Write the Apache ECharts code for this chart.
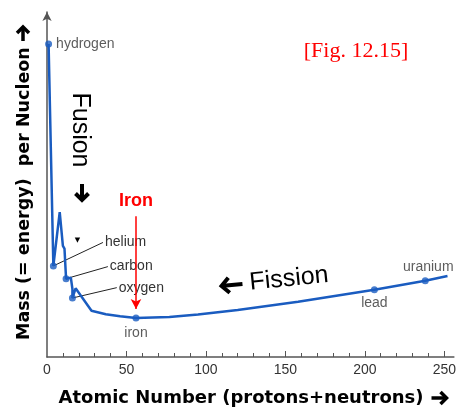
<!DOCTYPE html>
<html>
<head>
<meta charset="utf-8">
<script src="https://cdn.jsdelivr.net/npm/echarts@6/dist/echarts.min.js"></script>
<style>
  html, body { margin: 0; padding: 0; background: #fff; }
  #chart { width: 459px; height: 412px; }
</style>
</head>
<body>
<div id="chart"></div>
<script>
// binding curve (mass per nucleon in arbitrary units)
const curveA = [1, 4, 8, 10, 11, 12, 15, 16, 16, 18, 28, 37, 46, 56, 77, 95, 120, 158, 206, 238, 252]
const curveMass = [90.7, 26.4, 42.0, 32.2, 31.4, 22.7, 23.0, 19.7, 17.1, 19.9, 13.4, 12.4, 11.8, 11.3, 11.6, 12.3, 13.6, 16.0, 19.5, 22.1, 23.5]

// labelled elements
const elementNames = ['hydrogen', 'helium', 'carbon', 'oxygen', 'iron', 'lead', 'uranium']
const elementA = [1, 4, 12, 16, 56, 206, 238]
const elementMass = [90.7, 26.4, 22.7, 17.1, 11.3, 19.5, 22.1]

// leader lines for the crowded light elements (end of line, in data units)
const leaderNames = ['helium', 'carbon', 'oxygen']
const leaderA = [35.2, 38.3, 43.9]
const leaderMass = [33.2, 26.2, 20.1]

// red "Iron" arrow
const ironArrowA = 56
const ironArrowFrom = 40.8
const ironArrowTo = 13.9

const xTicks = [0, 50, 100, 150, 200, 250]
const xMinorTicks = [10, 20, 30, 40, 60, 70, 80, 90, 110, 120, 130, 140, 160, 170, 180, 190, 210, 220, 230, 240]

const blue = '#1a5cc0'
const sans = 'Liberation Sans'

const labelPlace = {
  hydrogen: { position: 'right', distance: 4 },
  iron: { position: 'bottom', distance: 5 },
  lead: { position: 'bottom', distance: 3 },
  uranium: { position: 'top', distance: 3, offset: [3, 0] }
}

// heavy black arrow (points right before rotation)
function arrow(x, y, len, head, width, rotation) {
  return {
    type: 'group', x: x, y: y, rotation: rotation,
    children: [
      { type: 'line', shape: { x1: -len / 2, y1: 0, x2: len / 2 - 2, y2: 0 }, style: { stroke: '#000', lineWidth: width } },
      { type: 'polyline', shape: { points: [[len / 2 - head, -head], [len / 2, 0], [len / 2 - head, head]] },
        style: { stroke: '#000', lineWidth: width, fill: null, lineJoin: 'miter' } }
    ]
  }
}

const chart = echarts.init(document.getElementById('chart'))

const leaderSeries = leaderNames.map((name, i) => {
  const k = elementNames.indexOf(name)
  return {
    type: 'line',
    silent: true,
    symbol: 'none',
    lineStyle: { color: '#222', width: 1 },
    data: [[elementA[k], elementMass[k]], [leaderA[i], leaderMass[i]]],
    endLabel: {
      show: true,
      formatter: name,
      distance: 2,
      color: '#333',
      fontSize: 14,
      fontFamily: sans
    },
    z: 1
  }
})

chart.setOption({
  animation: false,
  grid: { left: 47, right: 2, top: 12, bottom: 54 },
  xAxis: [{
    type: 'value',
    min: 0,
    max: 256,
    position: 'bottom',
    name: 'Atomic Number (protons+neutrons)   ',
    nameLocation: 'middle',
    nameGap: 32,
    nameTextStyle: { fontFamily: 'DejaVu Sans', fontWeight: 'bold', fontSize: 18, color: '#000' },
    axisLine: { lineStyle: { color: '#555', width: 1.5 } },
    axisTick: { show: true, inside: true, length: 4, customValues: xMinorTicks, lineStyle: { color: '#555' } },
    axisLabel: { customValues: xTicks, color: '#333', fontSize: 14, fontFamily: sans, margin: 6 },
    splitLine: { show: false }
  }, {
    type: 'value',
    min: 0,
    max: 256,
    position: 'bottom',
    axisLine: { show: false },
    axisTick: { show: true, inside: true, length: 6, customValues: xTicks.slice(1), lineStyle: { color: '#555' } },
    axisLabel: { show: false },
    splitLine: { show: false }
  }],
  yAxis: {
    type: 'value',
    min: 0,
    max: 100,
    name: 'Mass (= energy)  per Nucleon   ',
    nameLocation: 'middle',
    nameRotate: 90,
    nameGap: 14,
    nameTextStyle: { fontFamily: 'DejaVu Sans', fontWeight: 'bold', fontSize: 17.5, color: '#000' },
    axisLine: {
      lineStyle: { color: '#555', width: 1.5 },
      symbol: ['none', 'arrow'],
      symbolSize: [7, 9]
    },
    axisTick: { show: false },
    axisLabel: { show: false },
    splitLine: { show: false }
  },
  series: [{
    type: 'line',
    silent: true,
    showSymbol: false,
    lineStyle: { color: blue, width: 2.5 },
    data: curveA.map((a, i) => [a, curveMass[i]]),
    markLine: {
      silent: true,
      symbol: ['none', 'arrow'],
      symbolSize: [8, 10],
      lineStyle: { color: '#ff0000', width: 1.5, type: 'solid' },
      label: {
        show: true,
        position: 'start',
        formatter: 'Iron',
        color: '#ff0000',
        fontWeight: 'bold',
        fontSize: 18,
        fontFamily: sans,
        distance: 6
      },
      data: [[{ coord: [ironArrowA, ironArrowFrom] }, { coord: [ironArrowA, ironArrowTo] }]]
    },
    z: 2
  }, {
    type: 'scatter',
    silent: true,
    symbolSize: 7,
    itemStyle: { color: blue },
    label: { color: '#333', fontSize: 14, fontFamily: sans },
    data: elementNames.map((name, i) => {
      const place = labelPlace[name]
      return {
        name: name,
        value: [elementA[i], elementMass[i]],
        label: place ? Object.assign({ show: true, formatter: name }, place) : { show: false }
      }
    }),
    z: 3
  }].concat(leaderSeries),
  graphic: [
    {
      type: 'text', x: 80, y: 130, rotation: -Math.PI / 2,
      style: { text: 'Fusion', fontSize: 25, fontFamily: sans, fill: '#000', align: 'center', verticalAlign: 'middle' }
    },
    arrow(82, 192, 16, 6.5, 4, -Math.PI / 2),
    {
      type: 'text', x: 289, y: 279, rotation: 0.1,
      style: { text: 'Fission', fontSize: 25, fontFamily: sans, fill: '#000', align: 'center', verticalAlign: 'middle' }
    },
    arrow(232, 285, 21, 7.5, 4, Math.PI + 0.1),
    arrow(439, 398, 15, 6, 3.5, 0),
    arrow(23, 34, 14, 6, 3.5, Math.PI / 2),
    {
      type: 'text', x: 356, y: 51,
      style: { text: '[Fig. 12.15]', fontSize: 22, fontFamily: 'Liberation Serif', fill: '#ff0000', align: 'center', verticalAlign: 'middle' }
    },
    {
      type: 'text', x: 77.5, y: 240,
      style: { text: '▼', fontSize: 7, fontFamily: 'DejaVu Sans', fill: '#000', align: 'center', verticalAlign: 'middle' }
    }
  ]
})
</script>
</body>
</html>
